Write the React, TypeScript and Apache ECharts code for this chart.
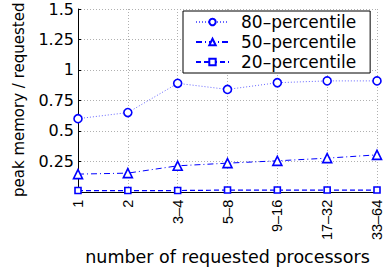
import React, { useEffect, useRef } from "react";
import * as echarts from "echarts";

const categories = ["1", "2", "3–4", "5–8", "9–16", "17–32", "33–64"];
const p80 = [0.6, 0.65, 0.89, 0.84, 0.895, 0.91, 0.91];
const p50 = [0.145, 0.153, 0.213, 0.235, 0.254, 0.276, 0.303];
const p20 = [0.01, 0.01, 0.01, 0.014, 0.014, 0.014, 0.014];
const seriesNames = ["80–percentile", "50–percentile", "20–percentile"];
const yTicks = [0, 0.25, 0.5, 0.75, 1, 1.25, 1.5];

const WIDE = "DejaVu Sans";
const NARROW = "Liberation Sans";
const BLUE = "#0000ff";

export default function App() {
  const ref = useRef<HTMLDivElement>(null);
  useEffect(() => {
    const chart = echarts.init(ref.current!, null, { renderer: "svg" });
    chart.setOption({
      animation: false,
      backgroundColor: "#ffffff",
      grid: { left: 78, right: 9, top: 9, bottom: 79, containLabel: false },
      legend: {
        orient: "vertical",
        left: 183,
        top: 11,
        backgroundColor: "#ffffff",
        borderColor: "#000000",
        borderWidth: 1,
        borderRadius: 0,
        padding: [1, 14, 1, 12],
        itemWidth: 33,
        itemHeight: 8,
        itemGap: 0,
        textStyle: {
          fontFamily: WIDE,
          fontSize: 17,
          lineHeight: 20,
          color: "#000",
          padding: [0, 0, 0, 7],
        },
        data: seriesNames,
      },
      xAxis: {
        type: "category",
        data: categories,
        boundaryGap: false,
        axisLine: { lineStyle: { color: "#000", width: 1 } },
        axisTick: { inside: true, length: 3, lineStyle: { color: "#000" } },
        axisLabel: {
          rotate: 90,
          fontFamily: NARROW,
          fontSize: 14.5,
          color: "#000",
          margin: 8,
        },
        splitLine: { show: true, lineStyle: { color: "#b0b0b0", type: [1, 2], width: 1 } },
        name: "number of requested processors",
        nameLocation: "middle",
        nameGap: 55,
        nameTextStyle: { fontFamily: WIDE, fontSize: 17.5, color: "#000" },
      },
      yAxis: {
        type: "value",
        min: 0,
        max: 1.5,
        interval: 0.25,
        axisLine: { show: true, lineStyle: { color: "#000", width: 1 } },
        axisTick: { show: true, inside: true, length: 3, lineStyle: { color: "#000" } },
        axisLabel: {
          fontFamily: WIDE,
          fontSize: 16,
          color: "#000",
          margin: 4,
          formatter: (v: number) => (v === 0 ? "" : yTicks.includes(v) ? String(v) : ""),
        },
        splitLine: { show: true, lineStyle: { color: "#b0b0b0", type: [1, 2], width: 1 } },
      },
      graphic: [
        {
          type: "text",
          x: 19,
          y: 197,
          rotation: Math.PI / 2,
          style: {
            text: "peak memory / requested",
            fontFamily: WIDE,
            fontSize: 15,
            fill: "#000",
            textAlign: "left",
            textVerticalAlign: "middle",
          },
        },
      ],
      series: [
        {
          name: seriesNames[0],
          type: "line",
          data: p80,
          symbol: "circle",
          symbolSize: 8,
          itemStyle: { color: "#ffffff", borderColor: BLUE, borderWidth: 1.6 },
          lineStyle: { color: BLUE, width: 1, type: [1, 2], opacity: 0.6 },
        },
        {
          name: seriesNames[1],
          type: "line",
          data: p50,
          symbol: "triangle",
          symbolSize: 9,
          itemStyle: { color: "#ffffff", borderColor: BLUE, borderWidth: 1.6 },
          lineStyle: { color: BLUE, width: 1, type: [6, 3, 1, 3] },
        },
        {
          name: seriesNames[2],
          type: "line",
          data: p20,
          symbol: "rect",
          symbolSize: 6,
          itemStyle: { color: "#ffffff", borderColor: BLUE, borderWidth: 1.6 },
          lineStyle: { color: BLUE, width: 1.2, type: [5, 3] },
        },
      ],
    });
    return () => chart.dispose();
  }, []);
  return <div ref={ref} style={{ width: 386, height: 271, position: "absolute", left: 0, top: 0 }} />;
}
